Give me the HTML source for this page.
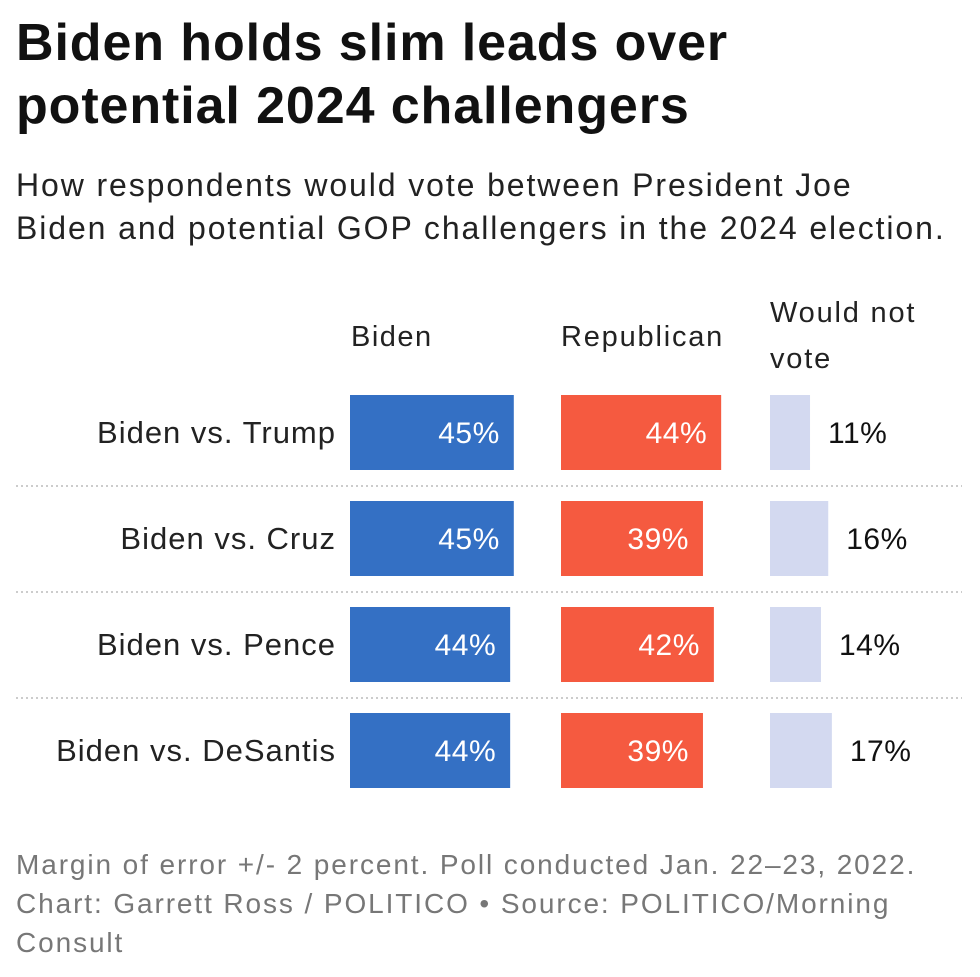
<!DOCTYPE html>
<html><head><meta charset="utf-8"><style>
body{margin:0;background:#fff;width:980px;height:977px;overflow:hidden;font-family:"Liberation Sans",sans-serif;}
.t{position:absolute;white-space:nowrap;}
</style></head><body>
<div class="t" style="left:16px;top:12px;font-size:52px;letter-spacing:0.9px;font-weight:bold;line-height:63px;color:#111;">Biden holds slim leads over<br>potential 2024 challengers</div>
<div class="t" style="left:16px;top:164px;font-size:32px;letter-spacing:1.9px;line-height:43px;color:#222;">How respondents would vote between President Joe<br>Biden and potential GOP challengers in the 2024 election.</div>
<svg id="chart" width="980" height="820" style="position:absolute;left:0;top:0"></svg>
<div class="t" style="left:16px;top:845px;font-size:28px;letter-spacing:1.9px;line-height:39px;color:#777;">Margin of error +/- 2 percent. Poll conducted Jan. 22–23, 2022.<br>Chart: Garrett Ross / POLITICO • Source: POLITICO/Morning<br>Consult</div>
<script>
const categories=["Biden vs. Trump","Biden vs. Cruz","Biden vs. Pence","Biden vs. DeSantis"];
const bidenValues=[45,45,44,44];
const republicanValues=[44,39,42,39];
const wouldNotVoteValues=[11,16,14,17];
const svg=document.getElementById('chart');
const NS='http://www.w3.org/2000/svg';
const scale=v=>v*3.64;
const rowY=i=>395+i*106;
const H=75;
function el(t,a){const e=document.createElementNS(NS,t);for(const k in a)e.setAttribute(k,a[k]);svg.appendChild(e);return e;}
function txt(x,y,s,anchor,fill,size,ls){const e=el('text',{x:x,y:y,'text-anchor':anchor,fill:fill,'font-size':size,'letter-spacing':ls||0,'font-family':'Liberation Sans, sans-serif'});e.textContent=s;return e;}
let h=txt(351,346,'Biden','start','#222',29,1.5);


h=txt(561,346,'Republican','start','#222',29,1.8);


h=txt(770,322,'Would not','start','#222',29,1.8);


h=txt(770,368,'vote','start','#222',29,1.8);


categories.forEach((c,i)=>{
  const y=rowY(i);
  let l=txt(336,y+48,c,'end','#222',31,1.0);
  
  
  let b=el('rect',{x:350,y:y,width:scale(bidenValues[i]),height:H,fill:'#3470c4'});
  
  
  let v=txt(350+scale(bidenValues[i])-14,y+48,bidenValues[i]+'%','end','#fff',30,0.5);
  
  
  b=el('rect',{x:561,y:y,width:scale(republicanValues[i]),height:H,fill:'#f55a40'});
  
  
  v=txt(561+scale(republicanValues[i])-14,y+48,republicanValues[i]+'%','end','#fff',30,0.5);
  
  
  b=el('rect',{x:770,y:y,width:scale(wouldNotVoteValues[i]),height:H,fill:'#d3d9f0'});
  
  
  v=txt(770+scale(wouldNotVoteValues[i])+18,y+48,wouldNotVoteValues[i]+'%','start','#111',30,0.5);
  
  
  if(i<categories.length-1){
    const s=el('line',{x1:16,x2:962,y1:y+91,y2:y+91,stroke:'#bbb','stroke-width':1.5,'stroke-dasharray':'2,3'});
    
    
  }
});
</script>
</body></html>
